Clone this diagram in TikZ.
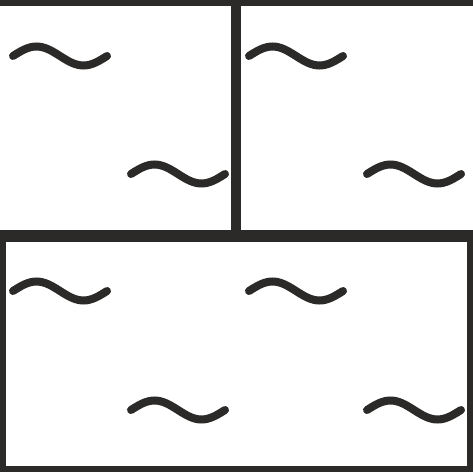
\documentclass[tikz,border=0pt]{standalone}
\definecolor{ink}{HTML}{2B2A29}
\tikzset{
  frame/.style={draw=ink, line cap=butt},
  wave/.pic={\draw[ink, line width=8pt, line cap=round]
    (0,0) sin (23.5,-9.5) cos (47,0) sin (70.5,9.5) cos (94,0);}
}
\begin{document}
\begin{tikzpicture}[x=1pt, y=-1pt]
\useasboundingbox (0,0) rectangle (473,473);
\fill[white] (0,0) rectangle (473,473);
% frame lines
\draw[frame, line width=6pt] (0,3) -- (473,3);
\draw[frame, line width=10pt] (236,3) -- (236,232);
\draw[frame, line width=12pt] (0,236) -- (473,236);
\draw[frame, line width=6pt, line join=miter] (3,236) -- (3,469) -- (470,469) -- (470,236);
% waves
\pic at (13,56) {wave};
\pic at (131,174) {wave};
\pic at (249,56) {wave};
\pic at (367,174) {wave};
\pic at (13,291) {wave};
\pic at (249,291) {wave};
\pic at (131,410) {wave};
\pic at (367,410) {wave};
\end{tikzpicture}
\end{document}
